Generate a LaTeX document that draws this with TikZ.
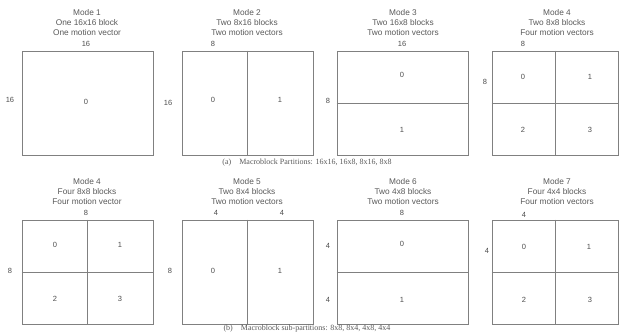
\documentclass[tikz,border=0pt]{standalone}
\usepackage{fontspec}
\setmainfont{Liberation Serif}
\newfontfamily\lsans{Liberation Sans}
\begin{document}
\begin{tikzpicture}[x=1pt,y=-1pt,
  box/.style={draw=black!50, line width=0.9pt, minimum width=131pt, inner sep=0pt},
  split/.style={draw=black!50, line width=0.9pt},
  ttl/.style={align=center, font=\lsans\fontsize{8.3}{10}\selectfont, text=black!65, inner sep=0pt},
  lab/.style={font=\lsans\fontsize{7.5}{8}\selectfont, text=black!70, inner sep=0pt},
  captext/.style={font=\fontsize{8}{9}\selectfont, text=black!65, inner sep=0pt}]
\useasboundingbox (0,0) rectangle (619,333);
% ---- top row ----
\node[ttl] (t1) at (87,23) {Mode 1\\One 16x16 block\\One motion vector};
\node[ttl] (t2) at (247,23) {Mode 2\\Two 8x16 blocks\\Two motion vectors};
\node[ttl] (t3) at (403,23) {Mode 3\\Two 16x8 blocks\\Two motion vectors};
\node[ttl] (t4) at (557,23) {Mode 4\\Two 8x8 blocks\\Four motion vectors};

\node[box, minimum height=104pt] (b1) at (87.5,103) {};
\node[box, minimum height=104pt] (b2) at (247.5,103) {};
\node[box, minimum height=104pt] (b3) at (402.5,103) {};
\node[box, minimum height=104pt, minimum width=126pt] (b4) at (555,103) {};
\draw[split] (b2.north) -- (b2.south);
\draw[split] (b3.west) -- (b3.east);
\draw[split] (b4.north) -- (b4.south);
\draw[split] (b4.west) -- (b4.east);

\node[lab] (l1t) at (86,44) {16};
\node[lab] (l1l) at (10,100) {16};
\node[lab] (c10) at (86,102) {0};

\node[lab] (l2t) at (213,44) {8};
\node[lab] (l2l) at (168,103) {16};
\node[lab] (c20) at (213,100) {0};
\node[lab] (c21) at (280,100) {1};

\node[lab] (l3t) at (402,44) {16};
\node[lab] (l3l) at (328,101) {8};
\node[lab] (c30) at (402,75) {0};
\node[lab] (c31) at (402,130) {1};

\node[lab] (l4t) at (523,44) {8};
\node[lab] (l4l) at (485,82) {8};
\node[lab] (c40) at (523,77) {0};
\node[lab] (c41) at (590,77) {1};
\node[lab] (c42) at (523,130) {2};
\node[lab] (c43) at (590,130) {3};

\node[captext] (capa) at (307,163) {(a)\quad Macroblock Partitions: 16x16, 16x8, 8x16, 8x8};

% ---- bottom row ----
\node[ttl] (t5) at (87,192) {Mode 4\\Four 8x8 blocks\\Four motion vector};
\node[ttl] (t6) at (247,192) {Mode 5\\Two 8x4 blocks\\Two motion vectors};
\node[ttl] (t7) at (403,192) {Mode 6\\Two 4x8 blocks\\Two motion vectors};
\node[ttl] (t8) at (557,192) {Mode 7\\Four 4x4 blocks\\Four motion vectors};

\node[box, minimum height=104pt] (b5) at (87.5,272) {};
\node[box, minimum height=104pt] (b6) at (247.5,272) {};
\node[box, minimum height=104pt] (b7) at (402.5,272) {};
\node[box, minimum height=104pt, minimum width=126pt] (b8) at (555,272) {};
\draw[split] (b5.north) -- (b5.south);
\draw[split] (b5.west) -- (b5.east);
\draw[split] (b6.north) -- (b6.south);
\draw[split] (b7.west) -- (b7.east);
\draw[split] (b8.north) -- (b8.south);
\draw[split] (b8.west) -- (b8.east);

\node[lab] (l5t) at (86,213) {8};
\node[lab] (l5l) at (10,271) {8};
\node[lab] (c50) at (55,245) {0};
\node[lab] (c51) at (120,245) {1};
\node[lab] (c52) at (55,299) {2};
\node[lab] (c53) at (120,299) {3};

\node[lab] (l6t) at (216,213) {4};
\node[lab] (l6u) at (282,213) {4};
\node[lab] (l6l) at (170,271) {8};
\node[lab] (c60) at (213,271) {0};
\node[lab] (c61) at (280,271) {1};

\node[lab] (l7t) at (402,213) {8};
\node[lab] (l7l) at (328,246) {4};
\node[lab] (l7m) at (328,300) {4};
\node[lab] (c70) at (402,244) {0};
\node[lab] (c71) at (402,300) {1};

\node[lab] (l8t) at (524,215) {4};
\node[lab] (l8l) at (487,251) {4};
\node[lab] (c80) at (524,247) {0};
\node[lab] (c81) at (589,247) {1};
\node[lab] (c82) at (524,300) {2};
\node[lab] (c83) at (590,300) {3};

\node[captext] (capb) at (307,329) {(b)\quad Macroblock sub-partitions: 8x8, 8x4, 4x8, 4x4};
\end{tikzpicture}
\end{document}
